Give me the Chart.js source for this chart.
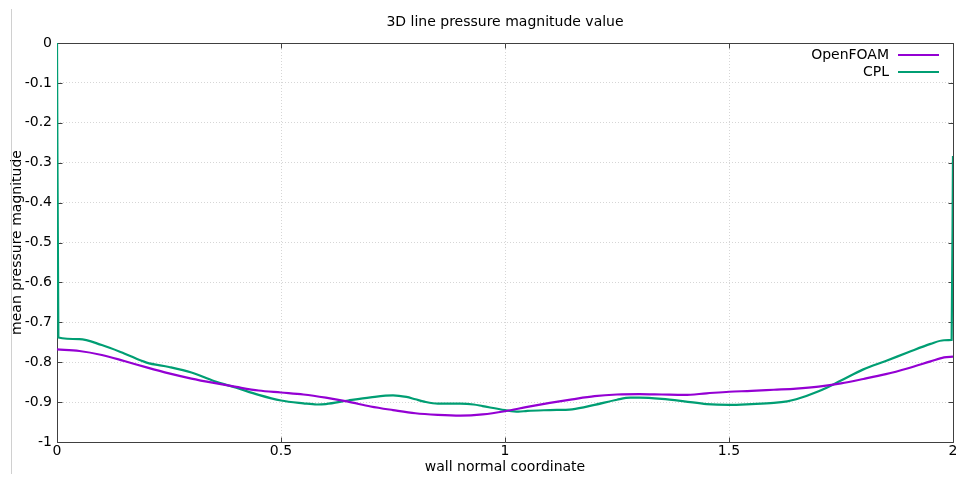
<!DOCTYPE html>
<html><head><meta charset="utf-8">
<script src="https://cdn.jsdelivr.net/npm/chart.js@4/dist/chart.umd.min.js"></script>
<style>
html,body{margin:0;padding:0;background:#fff;}
#wrap{position:relative;width:963px;height:481px;overflow:hidden;}
#edge{position:absolute;left:11px;top:9px;width:0;height:465px;border-left:1px solid #d0d0d0;}
canvas{position:absolute;left:0;top:0;}
</style></head><body>
<div id="wrap"><canvas id="c" width="963" height="481"></canvas><div id="edge"></div></div>
<script>
const chartTitle = '3D line pressure magnitude value';
const xAxisTitle = 'wall normal coordinate';
const yAxisTitle = 'mean pressure magnitude';
const seriesNames = ['OpenFOAM', 'CPL'];

const xOpenFOAM = [0, 0.05, 0.1, 0.15, 0.2, 0.25, 0.3, 0.35, 0.4, 0.45, 0.5, 0.55, 0.6, 0.65, 0.7, 0.75, 0.8, 0.85, 0.9, 0.95, 1.0, 1.05, 1.1, 1.15, 1.2, 1.25, 1.3, 1.35, 1.4, 1.45, 1.5, 1.55, 1.6, 1.65, 1.7, 1.75, 1.8, 1.85, 1.9, 1.95, 1.98, 2.0];
const yOpenFOAM = [-0.768, -0.772, -0.782, -0.797, -0.813, -0.828, -0.841, -0.852, -0.862, -0.871, -0.876, -0.881, -0.889, -0.899, -0.911, -0.920, -0.928, -0.932, -0.934, -0.931, -0.923, -0.912, -0.902, -0.893, -0.885, -0.881, -0.880, -0.881, -0.882, -0.878, -0.874, -0.872, -0.869, -0.866, -0.861, -0.853, -0.842, -0.830, -0.815, -0.798, -0.788, -0.786];

const xCPL = [0, 0.003, 0.05, 0.1, 0.15, 0.2, 0.25, 0.3, 0.35, 0.4, 0.45, 0.5, 0.55, 0.58, 0.6, 0.65, 0.7, 0.75, 0.78, 0.8, 0.82, 0.85, 0.9, 0.93, 0.95, 1.0, 1.03, 1.05, 1.1, 1.15, 1.2, 1.25, 1.28, 1.3, 1.35, 1.4, 1.45, 1.5, 1.55, 1.6, 1.63, 1.65, 1.7, 1.75, 1.8, 1.85, 1.9, 1.95, 1.98, 1.997, 2.0];
const yCPL = [0, -0.738, -0.742, -0.757, -0.778, -0.801, -0.812, -0.826, -0.847, -0.864, -0.882, -0.896, -0.903, -0.906, -0.905, -0.896, -0.888, -0.883, -0.887, -0.893, -0.899, -0.904, -0.904, -0.906, -0.910, -0.920, -0.924, -0.922, -0.920, -0.918, -0.907, -0.894, -0.889, -0.889, -0.892, -0.898, -0.905, -0.907, -0.905, -0.902, -0.898, -0.893, -0.873, -0.846, -0.818, -0.797, -0.775, -0.754, -0.745, -0.744, -0.283];

const xTickValues = [0, 0.5, 1, 1.5, 2];
const xTickLabels = ['0', '0.5', '1', '1.5', '2'];
const yTickValues = [0, -0.1, -0.2, -0.3, -0.4, -0.5, -0.6, -0.7, -0.8, -0.9, -1];
const yTickLabels = ['0', '-0.1', '-0.2', '-0.3', '-0.4', '-0.5', '-0.6', '-0.7', '-0.8', '-0.9', '-1'];

const colors = ['#9400d3', '#009e73'];
const FONT = '"DejaVu Sans", sans-serif';
const frameColor = '#404040';

Chart.defaults.font.family = FONT;
Chart.defaults.font.size = 14;
Chart.defaults.color = '#000';

const framePlugin = {
  id: 'frame',
  beforeDatasetsDraw(chart) {
    const {ctx, chartArea: a, scales} = chart;
    ctx.save();
    ctx.strokeStyle = frameColor;
    ctx.lineWidth = 1;
    const L = Math.round(a.left) + 0.5, R = Math.round(a.right) + 0.5;
    const T = Math.round(a.top) + 0.5, B = Math.round(a.bottom) + 0.5;
    ctx.beginPath();
    ctx.rect(L, T, R - L, B - T);
    const tl = 5;
    xTickValues.forEach(v => {
      const px = Math.round(scales.x.getPixelForValue(v)) + 0.5;
      ctx.moveTo(px, B); ctx.lineTo(px, B - tl);
      ctx.moveTo(px, T); ctx.lineTo(px, T + tl);
    });
    yTickValues.forEach(v => {
      const py = Math.round(scales.y.getPixelForValue(v)) + 0.5;
      ctx.moveTo(L, py); ctx.lineTo(L + tl, py);
      ctx.moveTo(R, py); ctx.lineTo(R - tl, py);
    });
    ctx.stroke();
    ctx.restore();
  },
  afterDraw(chart) {
    const {ctx} = chart;
    ctx.save();
    ctx.font = '14px ' + FONT;
    ctx.textAlign = 'right';
    ctx.textBaseline = 'middle';
    ctx.fillStyle = '#000';
    chart.data.datasets.forEach((ds, i) => {
      const y = 55 + i * 17;
      ctx.fillText(ds.label, 889, y + 0.5);
      ctx.strokeStyle = ds.borderColor;
      ctx.lineWidth = 2;
      ctx.beginPath();
      ctx.moveTo(898, y); ctx.lineTo(939, y);
      ctx.stroke();
    });
    ctx.restore();
  }
};

const toPoints = (xs, ys) => xs.map((x, i) => ({x: x, y: ys[i]}));

new Chart(document.getElementById('c'), {
  type: 'line',
  data: {
    datasets: [
      {label: seriesNames[0], data: toPoints(xOpenFOAM, yOpenFOAM), borderColor: colors[0], backgroundColor: colors[0], borderWidth: 2.2, pointRadius: 0, cubicInterpolationMode: 'monotone', fill: false},
      {label: seriesNames[1], data: toPoints(xCPL, yCPL), borderColor: colors[1], backgroundColor: colors[1], borderWidth: 2.2, pointRadius: 0, cubicInterpolationMode: 'monotone', fill: false}
    ]
  },
  options: {
    responsive: false,
    animation: false,
    devicePixelRatio: 1,
    layout: {padding: {left: 0, right: 10, top: 0, bottom: 0}},
    plugins: {
      legend: {display: false},
      tooltip: {enabled: false},
      title: {
        display: true, text: chartTitle, fullSize: false,
        font: {size: 14, weight: 'normal', family: FONT}, color: '#000',
        padding: {top: 13.6, bottom: 12.6}
      }
    },
    scales: {
      x: {
        type: 'linear', min: 0, max: 2,
        afterBuildTicks: s => { s.ticks = xTickValues.map(v => ({value: v})); },
        afterFit: s => { s.height = 39; },
        ticks: {padding: 1.3, maxRotation: 0, autoSkip: false, callback: (v, i) => xTickLabels[i], color: '#000'},
        grid: {color: '#d6d6d6', lineWidth: 1, drawTicks: false},
        border: {display: false, dash: [1, 2]},
        title: {display: true, text: xAxisTitle, color: '#000', font: {size: 14}, padding: {top: 0, bottom: 5.6}}
      },
      y: {
        type: 'linear', min: -1, max: 0,
        afterBuildTicks: s => { s.ticks = yTickValues.map(v => ({value: v})); },
        afterFit: s => { s.width = 57; },
        ticks: {padding: 5, autoSkip: false, callback: (v, i) => yTickLabels[i], color: '#000'},
        grid: {color: '#d6d6d6', lineWidth: 1, drawTicks: false},
        border: {display: false, dash: [1, 2]},
        title: {display: true, text: yAxisTitle, color: '#000', font: {size: 14}, padding: {top: 8.6, bottom: 0}}
      }
    }
  },
  plugins: [framePlugin]
});
</script>
</body></html>
